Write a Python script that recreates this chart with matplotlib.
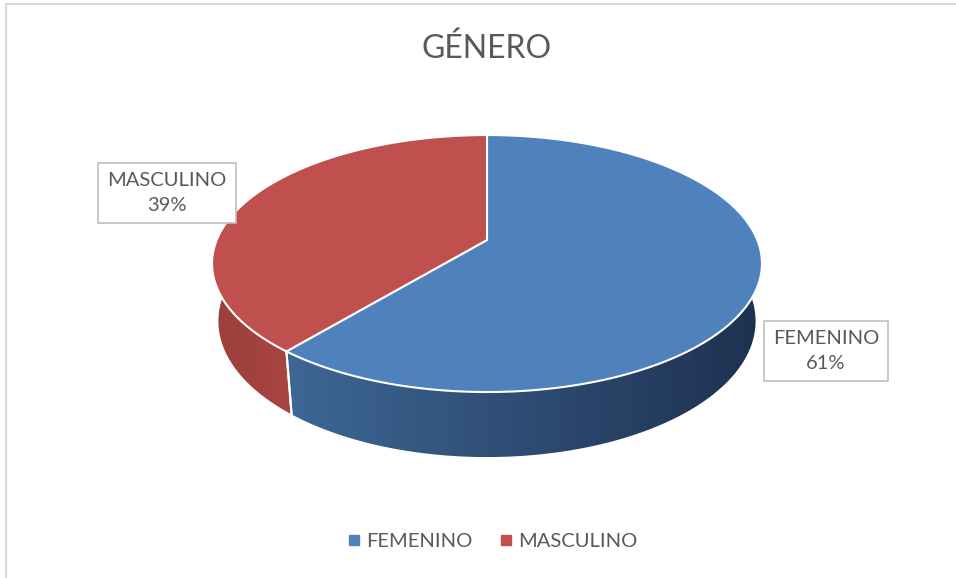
import matplotlib.pyplot as plt
import numpy as np
from matplotlib.patches import Polygon
from matplotlib.lines import Line2D
import matplotlib.colors as mcolors

plt.rcParams['font.family'] = ['Lato', 'DejaVu Sans']

title = 'GÉNERO'
labels = ['FEMENINO', 'MASCULINO']
shares = [61, 39]
top_colors = ['#4F81BD', '#C0504D']
# wall gradient (left colour, right colour)
wall_colors = [('#3E6796', '#1E3150'), ('#9C3F3B', '#A84541')]
text_color = '#595959'

# 3D pie geometry (pixel coords)
CX, CY = 487, 240
F = 270.3
elev = np.radians(27.35)
D = 4.85
H = 0.242
B, C = F * np.sin(elev), F * np.cos(elev)
P, Q = np.cos(elev) / D, np.sin(elev) / D


def proj(theta, z):
    X, Y = np.cos(theta), np.sin(theta)
    w = 1 + P * Y - Q * z
    return CX + F * X / w, CY - (B * Y + C * z) / w


fig = plt.figure(figsize=(9.56, 5.78), dpi=100)
ax = fig.add_axes([0, 0, 1, 1])
ax.set_xlim(0, 956)
ax.set_ylim(578, 0)
ax.axis('off')

# slice angles: start at 12 o'clock, first slice clockwise
bounds = [90.0]
for s in shares:
    bounds.append(bounds[-1] - 360 * s / sum(shares))

# front walls
for i in range(len(shares)):
    a1, a0 = bounds[i], bounds[i + 1]  # a0 < a1
    lo, hi = a0 % 360, a0 % 360 + (a1 - a0)
    # visible front range is 180..360
    ranges = []
    for off in (0, 360, -360):
        l, h = max(lo + off, 180), min(hi + off, 360)
        if h > l:
            ranges.append((l, h))
    for l, h in ranges:
        t = np.radians(np.linspace(l, h, 200))
        ut, vt = proj(t, 0)
        ub, vb = proj(t[::-1], -H)
        xy = np.column_stack([np.r_[ut, ub], np.r_[vt, vb]])
        poly = Polygon(xy, closed=True, facecolor='none', edgecolor='none')
        ax.add_patch(poly)
        cmap = mcolors.LinearSegmentedColormap.from_list('w', wall_colors[i])
        grad = np.linspace(0, 1, 256)[None, :]
        im = ax.imshow(grad, cmap=cmap, aspect='auto',
                       extent=(xy[:, 0].min(), xy[:, 0].max(), xy[:, 1].max(), xy[:, 1].min()),
                       zorder=1)
        im.set_clip_path(poly)
    # white edge on the wall at slice boundaries
    for a in (a0, a1):
        if 180 < a % 360 < 360:
            u0, v0 = proj(np.radians(a), 0)
            u1, v1 = proj(np.radians(a), -H)
            ax.plot([u0, u1], [v0, v1], color='white', lw=1.5, zorder=2)

# top faces
for i in range(len(shares)):
    a1, a0 = bounds[i], bounds[i + 1]
    t = np.radians(np.linspace(a0, a1, 300))
    u, v = proj(t, 0)
    xy = np.column_stack([np.r_[CX, u], np.r_[CY, v]])
    ax.add_patch(Polygon(xy, closed=True, facecolor=top_colors[i],
                         edgecolor='white', lw=1.5, zorder=3))

# data labels
label_pos = [(826, 351), (167, 193)]
for (x, y), lab, s in zip(label_pos, labels, shares):
    ax.text(x, y, f'{lab}\n{s}%', ha='center', va='center', fontsize=14.5,
            color=text_color, linespacing=1.6, zorder=5,
            bbox=dict(boxstyle='square,pad=0.45', facecolor='white', edgecolor='#BFBFBF', lw=1.2))

ax.text(487, 49, title, ha='center', va='center', fontsize=23, color=text_color)

# chart border (left and top)
ax.plot([6, 6, 956], [578, 4, 4], color='#D9D9D9', lw=1.5)

handles = [Line2D([], [], marker='s', ls='none', markersize=7, color=c) for c in top_colors]
fig.legend(handles, labels, loc='center', bbox_to_anchor=(492 / 956, 1 - 541 / 578), ncol=2,
           frameon=False, fontsize=14.5, labelcolor=text_color, handletextpad=0.25,
           columnspacing=1.3, handlelength=0.7)

fig.savefig('out.png', dpi=100, facecolor='white')
